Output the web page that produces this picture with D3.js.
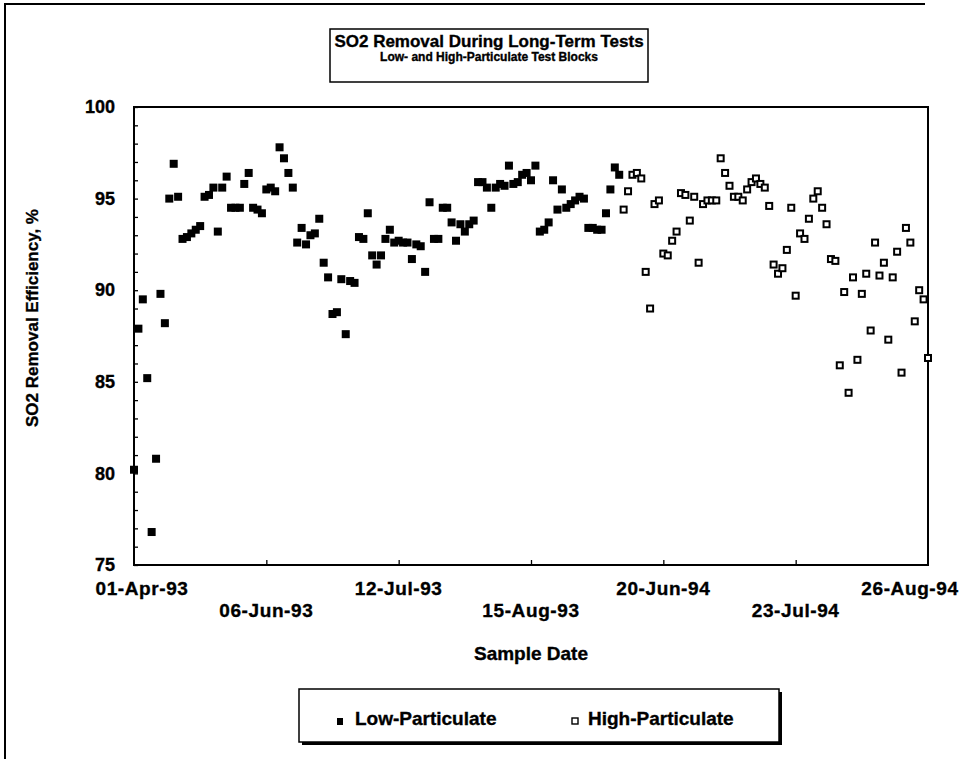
<!DOCTYPE html>
<html>
<head>
<meta charset="utf-8">
<script src="https://cdn.jsdelivr.net/npm/d3@7/dist/d3.min.js"></script>
<style>
  body { margin: 0; background: #fff; }
  text { font-family: Arial, "Liberation Sans", sans-serif; font-weight: bold; fill: #000; stroke: #000; stroke-width: 0.35px; }
</style>
</head>
<body>
<svg id="chart" width="960" height="759"></svg>
<script>
// SO2 removal efficiency (%) per sample, in sample order
const lowParticulate = [
  80.2, 87.9, 89.5, 85.2, 76.8, 80.8, 89.8, 88.2, 95.0, 96.9,
  95.1, 92.8, 92.9, 93.1, 93.3, 93.5, 95.1, 95.2, 95.6, 93.2,
  95.6, 96.2, 94.5, 94.5, 94.5, 95.8, 96.4, 94.5, 94.4, 94.2,
  95.5, 95.6, 95.4, 97.8, 97.2, 96.4, 95.6, 92.6, 93.4, 92.5,
  93.0, 93.1, 93.9, 91.5, 90.7, 88.7, 88.8, 90.6, 87.6, 90.5,
  90.4, 92.9, 92.8, 94.2, 91.9, 91.4, 91.9, 92.8, 93.3, 92.6,
  92.7, 92.6, 92.6, 91.7, 92.5, 92.4, 91.0, 94.8, 92.8, 92.8,
  94.5, 94.5, 93.7, 92.7, 93.6, 93.2, 93.6, 93.8, 95.9, 95.9,
  95.6, 94.5, 95.6, 95.8, 95.7, 96.8, 95.8, 95.9, 96.3, 96.4,
  96.0, 96.8, 93.2, 93.3, 93.7, 96.0, 94.4, 95.5, 94.5, 94.7,
  94.9, 95.1, 95.0, 93.4, 93.4, 93.3, 93.3, 94.2, 95.5, 96.7,
  96.3
];
const highParticulate = [
  94.4, 95.4, 96.3, 96.4, 96.1, 91.0, 89.0, 94.7, 94.9, 92.0,
  91.9, 92.7, 93.2, 95.3, 95.2, 93.8, 95.1, 91.5, 94.7, 94.9,
  94.9, 94.9, 97.2, 96.4, 95.7, 95.1, 95.1, 94.9, 95.5, 95.9,
  96.1, 95.8, 95.6, 94.6, 91.4, 90.9, 91.2, 92.2, 94.5, 89.7,
  93.1, 92.8, 93.9, 95.0, 95.4, 94.5, 93.6, 91.7, 91.6, 85.9,
  89.9, 84.4, 90.7, 86.2, 89.8, 90.9, 87.8, 92.6, 90.8, 91.5,
  87.3, 90.7, 92.1, 85.5, 93.4, 92.6, 88.3, 90.0, 89.5, 86.3
];
// Sample-date labels, one every labelStep samples
const dateLabels = ["01-Apr-93", "06-Jun-93", "12-Jul-93", "15-Aug-93", "20-Jun-94", "23-Jul-94", "26-Aug-94"];
const labelStep = 30;
const yTickValues = [75, 80, 85, 90, 95, 100];

const svg = d3.select("#chart");
const plot = { left: 134, right: 928, top: 107, bottom: 565 };
const nSamples = lowParticulate.length + highParticulate.length;

const x = d3.scaleLinear().domain([0, nSamples - 1]).range([plot.left, plot.right]);
const y = d3.scaleLinear().domain([75, 100]).range([plot.bottom, plot.top]);

const lowPts = lowParticulate.map((v, i) => ({ i, v }));
const highPts = highParticulate.map((v, i) => ({ i: i + lowParticulate.length, v }));

// outer frame (left and top edges)
svg.append("path")
  .attr("d", "M5,759V4H925")
  .attr("fill", "none").attr("stroke", "#000").attr("stroke-width", 2);

// title box
svg.append("rect").attr("x", 330).attr("y", 29).attr("width", 318).attr("height", 53)
  .attr("fill", "#fff").attr("stroke", "#000").attr("stroke-width", 1.5);
svg.append("text").attr("x", 489).attr("y", 47).attr("text-anchor", "middle")
  .style("font-size", "17px").text("SO2 Removal During Long-Term Tests");
svg.append("text").attr("x", 489).attr("y", 61).attr("text-anchor", "middle")
  .style("font-size", "12px").text("Low- and High-Particulate Test Blocks");

// y axis: minor ticks every unit (inside), labels every 5
svg.append("g").attr("transform", `translate(${plot.left},0)`)
  .call(d3.axisLeft(y).tickValues(d3.range(75, 101, 1)).tickSize(-4).tickFormat(""))
  .call(g => g.select(".domain").remove())
  .call(g => g.selectAll("line").attr("stroke", "#000").attr("stroke-width", 1.3));
svg.append("g").attr("transform", `translate(${plot.left},0)`)
  .call(d3.axisLeft(y).tickValues(yTickValues).tickSize(0).tickPadding(19).tickFormat(d3.format("d")))
  .call(g => g.select(".domain").remove())
  .call(g => g.selectAll("text").style("font-size", "18px")
    .style("font-family", "Arial, 'Liberation Sans', sans-serif").style("font-weight", "bold").attr("fill", "#000"));

// x axis: ticks between label groups (inside), labels in two staggered rows
svg.append("g").attr("transform", `translate(0,${plot.bottom})`)
  .call(d3.axisBottom(x).tickValues(d3.range(labelStep, nSamples - 1, labelStep)).tickSize(-5).tickFormat(""))
  .call(g => g.select(".domain").remove())
  .call(g => g.selectAll("line").attr("stroke", "#000").attr("stroke-width", 1.3));

const labelShift = (k) => (k === 0 ? 8 : (k === dateLabels.length - 1 ? -18 : 0));
svg.append("g").selectAll("text").data(dateLabels).join("text")
  .attr("x", (d, k) => x(k * labelStep) + labelShift(k))
  .attr("y", (d, k) => (k === dateLabels.length - 1 || k % 2 === 0) ? 595 : 617)
  .attr("text-anchor", "middle")
  .style("font-size", "19px").style("letter-spacing", "0.6px")
  .text(d => d);

// plot area border
svg.append("rect").attr("x", plot.left).attr("y", plot.top)
  .attr("width", plot.right - plot.left).attr("height", plot.bottom - plot.top)
  .attr("fill", "none").attr("stroke", "#000").attr("stroke-width", 2);

// axis titles
svg.append("text").attr("transform", `translate(38,318) rotate(-90)`)
  .attr("text-anchor", "middle").style("font-size", "17px").text("SO2 Removal Efficiency, %");
svg.append("text").attr("x", (plot.left + plot.right) / 2).attr("y", 660)
  .attr("text-anchor", "middle").style("font-size", "19px").text("Sample Date");

// markers
const ms = 8;
svg.append("g").selectAll("rect").data(lowPts).join("rect")
  .attr("x", d => x(d.i) - ms / 2).attr("y", d => y(d.v) - ms / 2)
  .attr("width", ms).attr("height", ms).attr("fill", "#000");
svg.append("g").selectAll("rect").data(highPts).join("rect")
  .attr("x", d => x(d.i) - (ms - 2) / 2).attr("y", d => y(d.v) - (ms - 2) / 2)
  .attr("width", ms - 2).attr("height", ms - 2)
  .attr("fill", "#fff").attr("stroke", "#000").attr("stroke-width", 2);

// legend
const lg = svg.append("g");
lg.append("rect").attr("x", 302).attr("y", 692).attr("width", 480).attr("height", 53).attr("fill", "#000");
lg.append("rect").attr("x", 299).attr("y", 689).attr("width", 480).attr("height", 53)
  .attr("fill", "#fff").attr("stroke", "#000").attr("stroke-width", 1.5);
lg.append("rect").attr("x", 337).attr("y", 718).attr("width", 6).attr("height", 7).attr("fill", "#000");
lg.append("text").attr("x", 355).attr("y", 725).style("font-size", "19px").text("Low-Particulate");
lg.append("rect").attr("x", 572).attr("y", 718).attr("width", 6).attr("height", 6)
  .attr("fill", "#fff").attr("stroke", "#000").attr("stroke-width", 1.4);
lg.append("text").attr("x", 588).attr("y", 725).style("font-size", "19px").text("High-Particulate");
</script>
</body>
</html>
